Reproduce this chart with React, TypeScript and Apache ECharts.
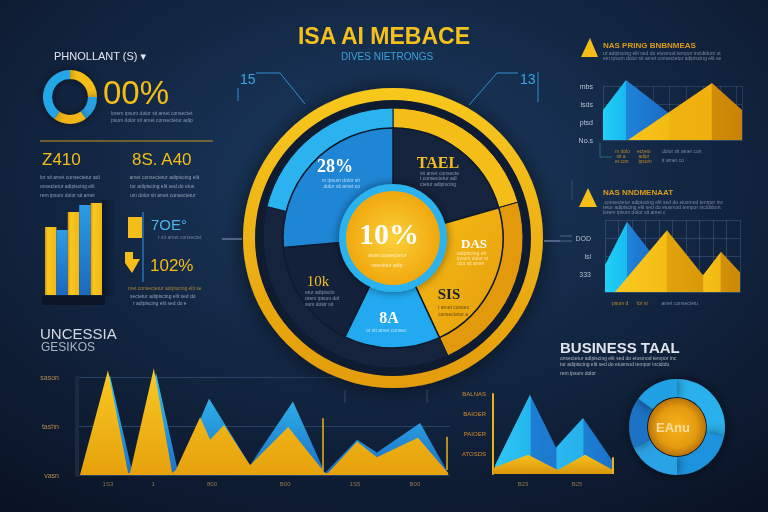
import React, { useEffect, useRef } from "react";
import * as echarts from "echarts";

// ---------------- data ----------------
const leftDonutShares = [25, 15, 20, 40];
const leftBarCats = ["a", "b", "c", "d", "e"];
const leftBarValues = [68, 65, 83, 90, 92];

// main wheel (shares in degrees, clockwise from 12 o'clock)
const wheelBandShares = [74, 81, 129, 76];
const wheelInnerShares = [74, 81, 51, 59, 95];
const wheelLabels = ["TAEL", "DAS", "8A", "10k", "28%"];
const wheelCenterLabel = "10%";

// bottom-left trend chart
const trendYellowX = [0.8, 8.3, 13.7, 14.2, 20.6, 25.5, 26.5, 33.0, 35.7, 39.4, 46.4, 56.6, 66.5, 67.3, 75.1, 80.4, 91.4, 99.5];
const trendYellowY = [0, 107, 2, 2, 109, 2, 5, 59, 36, 51, 10, 49, 2, 2, 34, 18, 38, 2];
const trendBlueX = [1.3, 8.8, 14.7, 15.0, 21.2, 27.1, 35.4, 46.4, 57.9, 66.5, 75.1, 80.4, 92.0, 99.5];
const trendBlueY = [0, 102, 5, 3, 104, 3, 78, 10, 75, 2, 36, 23, 53, 2];
const trendMarkerX = [40.5, 56.8, 66.0, 99.2];
const trendMarkerTop = [107, 109, 58, 39];
const trendMarkerBottom = [54, 46, 5, 5];
const trendTickX = [8.3, 20.4, 36.2, 55.8, 74.5, 90.6];
const trendTickLabels = ["1S3", "1", "800", "B00", "1S5", "B00"];
const trendYTicks = [0, 50, 100];
const trendYLabels = ["vasn", "tashn", "sason"];

// top-right chart
const trBlueX = [0, 16.5, 46.8];
const trBlueY = [50, 100, 46];
const trYellowX = [18, 78.4, 100];
const trYellowY = [0, 95, 50];
const trYTicks = [0, 30, 60, 90];
const trYLabels = ["No.s", "ptsd", "lsds", "mbs"];

// middle-right chart
const mrBlueX = [0, 16.3, 37];
const mrBlueY = [45, 117, 57];
const mrYellowX = [7.4, 45.9, 72.6, 85.9, 100];
const mrYellowY = [0, 103, 28, 67, 33];
const mrYTicks = [30, 60, 90];
const mrYLabels = ["333", "lsl", "DOD"];

// bottom-right chart
const brBlueX = [1.7, 30.8, 52.5, 75, 99.2];
const brBlueY = [11, 99, 33, 70, 17.5];
const brYellowX = [0, 29.2, 54, 76.7, 100];
const brYellowY = [7.5, 24, 5, 24, 5];
const brYTicks = [25, 50, 75, 100];
const brYLabels = ["ATOSDS", "PAIOER", "BAIOER", "BALNAS"];
const brTickX = [25, 70];
const brTickLabels = ["B23", "B25"];

const brDonutShares = [28, 22, 18, 17, 15];

// ---------------- styling ----------------
const SANS = "Liberation Sans, DejaVu Sans, sans-serif";
const SERIF = "Liberation Serif, DejaVu Serif, serif";
const YEL = "#f5bd17";
const AMBER = "#e29a0c";
const LBLUE = "#2bb3ef";
const MBLUE = "#1f86d6";
const DARK = "#15233d";

const lin = (x2: number, y2: number, stops: [number, string][]) =>
  new echarts.graphic.LinearGradient(0, 0, x2, y2, stops.map(([offset, color]) => ({ offset, color })));
const rad = (stops: [number, string][]) =>
  new echarts.graphic.RadialGradient(0.5, 0.5, 0.5, stops.map(([offset, color]) => ({ offset, color })));

const FILLER =
  "lorem ipsum dolor sit amet consectetur adipiscing elit sed do eiusmod tempor incididunt ut labore et dolore magna aliqua ut enim ad minim veniam quis nostrud";

function txt(text: string, x: number, y: number, size: number, fill: string, extra: any = {}) {
  return {
    type: "text",
    x,
    y,
    z: 100,
    silent: true,
    style: { text, fontSize: size, fill, fontFamily: SANS, align: "left", verticalAlign: "middle", ...extra },
  };
}
let tinyIdx = 0;
function tiny(x: number, y: number, w: number, fill: string, size = 5) {
  const n = Math.max(3, Math.round(w / (size * 0.5)));
  const start = (tinyIdx++ * 7) % 40;
  return txt(FILLER.slice(start, start + n), x, y, size, fill, { opacity: 0.85 });
}
function line(x1: number, y1: number, x2: number, y2: number, stroke: string, lineWidth = 1) {
  return { type: "line", z: 5, silent: true, shape: { x1, y1, x2, y2 }, style: { stroke, lineWidth } };
}
function poly(points: number[][], fill: string) {
  return { type: "polygon", z: 5, silent: true, shape: { points }, style: { fill } };
}
function pline(points: number[][], stroke: string, lineWidth = 1) {
  return { type: "polyline", z: 5, silent: true, shape: { points }, style: { stroke, lineWidth, fill: "none" } };
}
function rect(x: number, y: number, width: number, height: number, fill: any, z = 1) {
  return { type: "rect", z, silent: true, shape: { x, y, width, height }, style: { fill } };
}

const zip = (xs: number[], ys: number[]) => xs.map((x, i) => [x, ys[i]]);
const labelMap = (ticks: number[], labels: string[]) => {
  const m: Record<number, string> = {};
  ticks.forEach((t, i) => (m[t] = labels[i]));
  return (v: number) => m[v] ?? "";
};

function area(idx: number, xs: number[], ys: number[], color: any, z: number, extra: any = {}) {
  return {
    type: "line",
    xAxisIndex: idx,
    yAxisIndex: idx,
    data: zip(xs, ys),
    showSymbol: false,
    symbol: "none",
    clip: false,
    silent: true,
    z,
    lineStyle: { width: 0, opacity: 0 },
    areaStyle: { color, opacity: 1, origin: "start" },
    ...extra,
  };
}

function ring(center: number[], radius: any, values: number[], colors: any[], z: number, extra: any = {}) {
  return {
    type: "pie",
    center,
    radius,
    startAngle: 90,
    clockwise: true,
    silent: true,
    z,
    avoidLabelOverlap: false,
    label: { show: false },
    labelLine: { show: false },
    emphasis: { disabled: true },
    itemStyle: { borderWidth: 0 },
    data: values.map((v, i) => ({ value: v, itemStyle: { color: colors[i % colors.length] } })),
    ...extra,
  };
}

function valueAxis(idx: number, extra: any = {}) {
  return {
    type: "value",
    gridIndex: idx,
    min: 0,
    max: 100,
    axisLine: { show: false },
    axisTick: { show: false },
    axisLabel: { show: false },
    splitLine: { show: false },
    ...extra,
  };
}

function buildOption() {
  const CX = 393;
  const CY = 238;

  const graphics: any[] = [
    // ---- title ----
    txt("ISA AI MEBACE", 384, 36, 23, "#f4c01c", { align: "center", fontWeight: "bold" }),
    txt("DIVES NIETRONGS", 387, 56, 10, "#3aa1dd", { align: "center" }),
    txt("15", 240, 79, 14, "#3aa6e6"),
    pline([[256, 73], [280, 73], [305, 104]], "#2f8fd0"),
    line(238, 88, 238, 101, "#2f8fd0"),
    txt("13", 520, 79, 14, "#3aa6e6"),
    pline([[518, 73], [497, 73], [469, 105]], "#2f8fd0"),
    line(538, 72, 538, 102, "#2f8fd0"),
    line(222, 239, 242, 239, "#4d6585", 2),
    line(544, 241, 560, 241, "#4d6585", 2),

    // ---- top left ----
    txt("PHNOLLANT (S) ▾", 54, 56, 11, "#e2e6ee"),
    txt("00%", 103, 92, 33, YEL),
    tiny(111, 113, 90, "#9aaac2"),
    tiny(111, 120, 90, "#9aaac2"),
    line(40, 141, 213, 141, "#c8951c"),
    txt("Z410", 42, 159, 17, YEL),
    txt("8S. A40", 132, 159, 17, YEL),
    tiny(40, 177, 70, "#a7b4c8"),
    tiny(128, 177, 84, "#a7b4c8"),
    tiny(40, 186, 64, "#a7b4c8"),
    tiny(130, 186, 78, "#a7b4c8"),
    tiny(40, 195, 62, "#a7b4c8"),
    tiny(130, 195, 74, "#a7b4c8"),
    rect(42, 296, 63, 9, "#0c1526"),
    rect(102, 200, 14, 96, lin(1, 0, [[0, "rgba(5,10,20,0.55)"], [1, "rgba(5,10,20,0)"]])),
    rect(128, 217, 14, 21, YEL, 6),
    line(143, 212, 143, 282, "#2d70b5", 1.5),
    txt("7OE°", 151, 224, 15, "#4db4ea"),
    tiny(158, 237, 50, "#7f93ad"),
    poly([[125, 252], [133, 252], [133, 259], [140, 259], [132, 273], [125, 263]], YEL),
    txt("102%", 150, 265, 17, YEL),
    tiny(128, 288, 85, "#c4962e"),
    tiny(130, 296, 80, "#a7b4c8"),
    tiny(133, 303, 66, "#a7b4c8"),

    // ---- bottom left ----
    txt("UNCESSIA", 40, 333, 15, "#d4d9e2"),
    txt("GESIKOS", 41, 347, 12, "#a9b3c3"),
    line(345, 390, 345, 403, "#3a4b63"),
    line(427, 390, 427, 403, "#3a4b63"),

    // ---- wheel labels ----
    txt(wheelLabels[4], 335, 166, 18, "#ffffff", { align: "center", fontFamily: SERIF, fontWeight: "bold" }),
    tiny(322, 180, 46, "#cfe6ff"),
    tiny(322, 186, 46, "#cfe6ff"),
    txt(wheelLabels[0], 438, 162, 16, "#f4bf1c", { align: "center", fontFamily: SERIF, fontWeight: "bold" }),
    tiny(420, 173, 42, "#9cabc0"),
    tiny(420, 178, 42, "#9cabc0"),
    tiny(420, 184, 42, "#9cabc0"),
    txt(wheelLabels[1], 474, 243, 13, "#ffffff", { align: "center", fontFamily: SERIF, fontWeight: "bold" }),
    tiny(457, 253, 36, "#fff0c8"),
    tiny(457, 258, 36, "#fff0c8"),
    tiny(457, 263, 36, "#fff0c8"),
    txt("SIS", 449, 294, 15, "#1b2233", { align: "center", fontFamily: SERIF, fontWeight: "bold" }),
    tiny(438, 307, 32, "#4a3a1a"),
    tiny(438, 314, 32, "#4a3a1a"),
    txt(wheelLabels[3], 318, 281, 15, "#f4bf1c", { align: "center", fontFamily: SERIF }),
    tiny(305, 292, 34, "#9cabc0"),
    tiny(305, 298, 34, "#9cabc0"),
    tiny(305, 304, 34, "#9cabc0"),
    txt(wheelLabels[2], 389, 317, 16, "#ffffff", { align: "center", fontFamily: SERIF, fontWeight: "bold" }),
    tiny(366, 330, 45, "#d4ecff"),
    txt(wheelCenterLabel, 389, 233, 30, "#ffffff", { align: "center", fontFamily: SERIF, fontWeight: "bold" }),
    tiny(368, 255, 42, "#fff6d6"),
    tiny(371, 265, 36, "#fff6d6"),

    // ---- top right ----
    poly([[581, 57], [590, 38], [598, 57]], YEL),
    txt("NAS PRING BNBNMEAS", 603, 45, 8, "#d99c1f", { fontWeight: "bold" }),
    tiny(603, 53, 135, "#8d9ab0"),
    tiny(603, 58, 135, "#8d9ab0"),
    pline([[600, 143], [600, 157], [612, 157]], "#2c6d6a"),
    tiny(615, 151, 15, "#d99c1f"),
    tiny(615, 156, 15, "#d99c1f"),
    tiny(615, 161, 15, "#d99c1f"),
    tiny(637, 151, 15, "#d99c1f"),
    tiny(637, 156, 15, "#d99c1f"),
    tiny(637, 161, 15, "#d99c1f"),
    tiny(662, 151, 45, "#8d9ab0"),
    tiny(662, 160, 25, "#8d9ab0"),

    // ---- middle right ----
    poly([[579, 207], [588, 188], [597, 207]], YEL),
    txt("NAS NNDMENAAT", 603, 192, 8, "#d99c1f", { fontWeight: "bold" }),
    tiny(603, 202, 135, "#8d9ab0"),
    tiny(603, 207, 135, "#8d9ab0"),
    tiny(603, 212, 70, "#8d9ab0"),
    line(572, 180, 572, 200, "#3b4b62"),
    line(560, 236, 572, 236, "#4d6585"),
    line(560, 241, 572, 241, "#4d6585"),
    tiny(612, 303, 14, "#d99c1f"),
    tiny(637, 303, 14, "#d99c1f"),
    tiny(660, 303, 40, "#8d9ab0"),

    // ---- bottom right ----
    txt("BUSINESS TAAL", 560, 347, 15, "#dfe3ea", { fontWeight: "bold" }),
    tiny(560, 358, 130, "#c6ccd6"),
    tiny(560, 364, 125, "#c6ccd6"),
    tiny(560, 373, 40, "#c6ccd6"),
    txt("EAnu", 673, 427, 13, "#f9dca0", { align: "center", fontWeight: "bold" }),
  ];

  const yellowV = lin(0, 1, [[0, "#f9c923"], [1, "#e6a10c"]]);
  const blueV = lin(0, 1, [[0, "#34c6f4"], [1, "#1b6fc6"]]);

  return {
    animation: false,
    backgroundColor: new echarts.graphic.RadialGradient(0.5, 0.35, 0.8, [
      { offset: 0, color: "#1d3e66" },
      { offset: 0.45, color: "#132845" },
      { offset: 1, color: "#0a1324" },
    ]),
    grid: [
      { left: 45, top: 195, width: 57, height: 100, outerBoundsMode: "none" },
      { left: 77, top: 377, width: 373, height: 98, outerBoundsMode: "none" },
      { left: 603, top: 86, width: 139, height: 54, outerBoundsMode: "none" },
      { left: 605, top: 220, width: 135, height: 72, outerBoundsMode: "none" },
      { left: 493, top: 394, width: 120, height: 80, outerBoundsMode: "none" },
    ],
    xAxis: [
      { type: "category", gridIndex: 0, data: leftBarCats, show: false },
      valueAxis(1),
      valueAxis(2, {
        interval: 12,
        splitLine: { show: true, lineStyle: { color: "rgba(80,110,150,0.35)" } },
        axisLine: { show: true, lineStyle: { color: "#2b4a6a" } },
      }),
      valueAxis(3, {
        interval: 10,
        splitLine: { show: true, lineStyle: { color: "rgba(80,110,150,0.4)" } },
        axisLine: { show: true, lineStyle: { color: "#2b4a6a" } },
      }),
      valueAxis(4),
    ],
    yAxis: [
      valueAxis(0, { show: false }),
      valueAxis(1, {
        interval: 50,
        axisLabel: { show: true, formatter: labelMap(trendYTicks, trendYLabels), color: "#b38c4e", fontSize: 7, margin: 18, fontFamily: SANS },
        splitLine: { show: true, lineStyle: { color: "#2a4265", width: 1 } },
        axisLine: { show: true, lineStyle: { color: "#1b2a40", width: 4 } },
      }),
      valueAxis(2, {
        max: 90,
        interval: 30,
        axisLabel: { show: true, formatter: labelMap(trYTicks, trYLabels), color: "#b7c3d4", fontSize: 7, margin: 10, fontFamily: SANS },
        splitLine: { show: true, lineStyle: { color: "rgba(80,110,150,0.35)" } },
        axisLine: { show: true, lineStyle: { color: "#2b4a6a" } },
      }),
      valueAxis(3, {
        max: 120,
        interval: 30,
        axisLabel: { show: true, formatter: labelMap(mrYTicks, mrYLabels), color: "#b3bfd0", fontSize: 7, margin: 14, fontFamily: SANS },
        splitLine: { show: true, lineStyle: { color: "rgba(80,110,150,0.4)" } },
        axisLine: { show: true, lineStyle: { color: "#2b4a6a" } },
      }),
      valueAxis(4, {
        interval: 25,
        axisLabel: { show: true, formatter: labelMap(brYTicks, brYLabels), color: "#d68a2c", fontSize: 6, margin: 7, fontFamily: SANS },
        axisLine: { show: true, lineStyle: { color: "#e8b21a", width: 2 } },
      }),
    ],
    series: [
      // left bars
      {
        type: "bar",
        xAxisIndex: 0,
        yAxisIndex: 0,
        barWidth: "100%",
        barCategoryGap: 0,
        silent: true,
        z: 3,
        data: leftBarValues.map((v, i) => ({
          value: v,
          itemStyle: {
            color: i % 2 === 0 ? lin(1, 0, [[0, "#d99a0c"], [0.25, "#f8c720"], [1, "#f1b714"]]) : lin(0, 1, [[0, "#2a9ce8"], [1, "#1a68c0"]]),
          },
        })),
      },
      // bottom-left trend
      area(1, trendBlueX, trendBlueY, blueV, 3),
      area(1, trendYellowX, trendYellowY, yellowV, 4, {
        markLine: {
          symbol: "none",
          silent: true,
          label: { show: false },
          lineStyle: { color: "#e8b21a", width: 1.5, type: "solid" },
          data: trendMarkerX.map((x, i) => [{ coord: [x, trendMarkerTop[i]] }, { coord: [x, trendMarkerBottom[i]] }]),
        },
      }),
      {
        type: "scatter",
        xAxisIndex: 1,
        yAxisIndex: 1,
        silent: true,
        symbolSize: 1,
        itemStyle: { color: "rgba(0,0,0,0)" },
        data: trendTickX.map((x, i) => ({ value: [x, 0], label: { formatter: trendTickLabels[i] } })),
        label: { show: true, position: "bottom", distance: 5, color: "#b38c4e", fontSize: 6, fontFamily: SANS },
      },
      // top-right
      area(2, trBlueX, trBlueY, lin(1, 0, [[0, "#1fd0f7"], [0.35, "#18b9ee"], [0.36, "#1f84d8"], [1, "#1a6cc6"]]), 3),
      area(2, trYellowX, trYellowY, lin(1, 0, [[0, "#f8c51e"], [0.36, "#f3bb12"], [0.37, "#efb20f"], [0.73, "#f0b00e"], [0.74, "#d28c08"], [1, "#c88306"]]), 4),
      // middle-right
      area(3, mrBlueX, mrBlueY, lin(1, 0, [[0, "#1fd0f7"], [0.44, "#19bbef"], [0.45, "#1f84d8"], [1, "#1a6cc6"]]), 3),
      area(3, mrYellowX, mrYellowY, lin(1, 0, [[0, "#f9c920"], [0.41, "#f4bd15"], [0.42, "#e1a30c"], [0.7, "#d99a0a"], [0.71, "#f6c01a"], [0.84, "#f2b812"], [0.85, "#d3900a"], [1, "#cc8808"]]), 4),
      // bottom-right
      area(4, brBlueX, brBlueY, lin(1, 0, [[0, "#2fc9f5"], [0.3, "#25b5ee"], [0.31, "#1d7fd4"], [0.52, "#1c78cf"], [0.53, "#2ab8ef"], [0.75, "#26b0ec"], [0.76, "#1d80d5"], [1, "#1b70c8"]]), 3),
      area(4, brYellowX, brYellowY, lin(0, 1, [[0, "#f7c21c"], [1, "#d9950c"]]), 4, {
        markLine: {
          symbol: "none",
          silent: true,
          label: { show: false },
          lineStyle: { color: "#e8b21a", width: 2, type: "solid" },
          data: [[{ coord: [100, 21] }, { coord: [100, 0] }]],
        },
      }),
      {
        type: "scatter",
        xAxisIndex: 4,
        yAxisIndex: 4,
        silent: true,
        symbolSize: 1,
        itemStyle: { color: "rgba(0,0,0,0)" },
        data: brTickX.map((x, i) => ({ value: [x, 0], label: { formatter: brTickLabels[i] } })),
        label: { show: true, position: "bottom", distance: 6, color: "#b38c4e", fontSize: 6, fontFamily: SANS },
      },
      // left donut
      ring([70, 97], [18, 27], leftDonutShares, [YEL, "#2a9fe0", "#f0b414", "#23a6e6"], 3, {
        itemStyle: { borderWidth: 0, shadowBlur: 8, shadowColor: "rgba(0,0,0,0.5)" },
      }),
      // main wheel
      ring([CX, CY], [0, 150], [1], [lin(0, 1, [[0, "#f8c81f"], [1, "#e39c0b"]])], 3, {
        itemStyle: { borderWidth: 0, shadowBlur: 25, shadowColor: "rgba(0,0,0,0.6)" },
      }),
      ring([CX, CY], [0, 138], [1], ["#0f1b30"], 4),
      ring([CX, CY], [110, 130], wheelBandShares, [YEL, AMBER, DARK, LBLUE], 5, {
        itemStyle: { borderWidth: 1, borderColor: "#0f1b30" },
      }),
      ring([CX, CY], [50, 110], wheelInnerShares, [DARK, lin(1, 1, [[0, "#f7bd16"], [1, "#e49d0b"]]), "#22a9ef", "#14213a", MBLUE], 6, {
        itemStyle: { borderWidth: 1.5, borderColor: "#0e1a2e" },
      }),
      ring([CX, CY], [0, 54], [1], [LBLUE], 7, {
        itemStyle: { borderWidth: 0, shadowBlur: 10, shadowColor: "rgba(0,0,0,0.5)" },
      }),
      ring([CX, CY], [0, 47], [1], [rad([[0, "#fbd13a"], [1, "#f0a80d"]])], 8),
      // bottom-right donut
      ring([677, 427], [30, 48], brDonutShares, ["#2bb0ec", "#1f93dc", "#2aa2e6", "#1a72c4", "#23a0e4"], 3, {
        itemStyle: { borderWidth: 0, shadowBlur: 12, shadowColor: "rgba(0,0,0,0.55)" },
      }),
      ring([677, 427], [0, 29], [1], [rad([[0, "#f6b51a"], [0.7, "#e39a10"], [1, "#b8730a"]])], 4),
    ],
    graphic: { elements: graphics },
  };
}

export default function App() {
  const ref = useRef<HTMLDivElement>(null);
  useEffect(() => {
    if (!ref.current) return;
    const chart = echarts.init(ref.current, null, { renderer: "svg" });
    chart.setOption(buildOption() as any);
    return () => chart.dispose();
  }, []);
  return <div ref={ref} style={{ position: "fixed", left: 0, top: 0, width: 768, height: 512 }} />;
}
